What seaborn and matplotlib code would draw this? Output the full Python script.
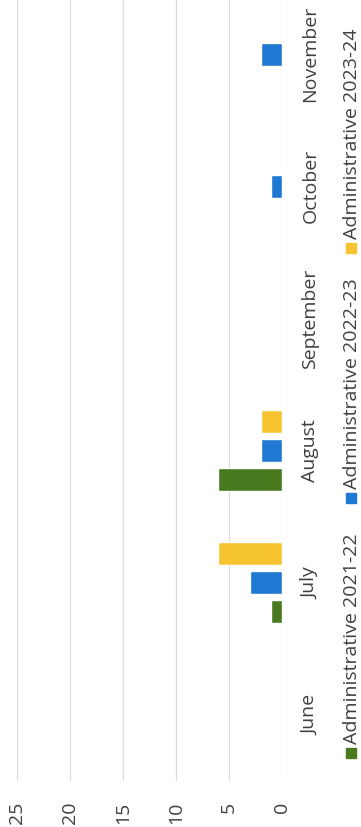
import matplotlib
matplotlib.use("Agg")
import matplotlib.pyplot as plt
from matplotlib.patches import Rectangle
import seaborn as sns
import pandas as pd

months = ["June", "July", "August", "September", "October", "November"]
series = ["Administrative 2021-22", "Administrative 2022-23", "Administrative 2023-24"]
admin_2021_22 = [0, 1, 6, 0, 0, 0]
admin_2022_23 = [0, 3, 2, 0, 1, 2]
admin_2023_24 = [0, 6, 2, 0, 0, 0]
value_ticks = [0, 5, 10, 15, 20, 25]
colors = ["#4a7a1f", "#1f78d1", "#f6c431"]

df = pd.DataFrame({
    "month": months * 3,
    "series": [s for s in series for _ in months],
    "value": admin_2021_22 + admin_2022_23 + admin_2023_24,
})

sns.set_theme(style="white")
plt.rcParams["font.family"] = ["Open Sans", "DejaVu Sans"]

fig = plt.figure(figsize=(3.61, 8.27), dpi=100)
W, H = 361, 827
# axes box in pixel terms: value axis runs right-to-left, months bottom-to-top
ax = fig.add_axes([17 / W, (H - 781) / H, 265 / W, 781 / H])

sns.barplot(data=df, y="month", x="value", hue="series", order=months,
            hue_order=series, palette=colors, orient="h", width=0.66,
            gap=0.2, legend=False, ax=ax, saturation=1)

ax.set_xlim(25, 0)
ax.set_ylim(-0.5, 5.41)
ax.set_xticks(value_ticks)
ax.set_xticklabels([str(v) for v in value_ticks], rotation=90, fontsize=14,
                   color="#404040")
ax.tick_params(axis="x", length=0, pad=15)
ax.yaxis.tick_right()
ax.set_yticks(range(len(months)))
ax.set_yticklabels(months, rotation=90, fontsize=14, color="#404040",
                   va="center")
ax.tick_params(axis="y", length=0, pad=14)
ax.grid(axis="x", color="#dcdcdc", linewidth=0.9)
ax.set_axisbelow(True)
for s in ax.spines.values():
    s.set_visible(False)
ax.set_xlabel("")
ax.set_ylabel("")

# legend drawn vertically along the right edge
legend_y = [753, 498, 248]
for name, col, yp in zip(series, colors, legend_y):
    fig.patches.append(Rectangle((346 / W, (H - yp - 5) / H), 10 / W, 10 / H,
                                 transform=fig.transFigure, color=col))
    fig.text(352 / W, (H - yp + 9) / H, name, rotation=90, fontsize=14,
             color="#404040", ha="center", va="bottom")

fig.savefig("out.png", dpi=100)
